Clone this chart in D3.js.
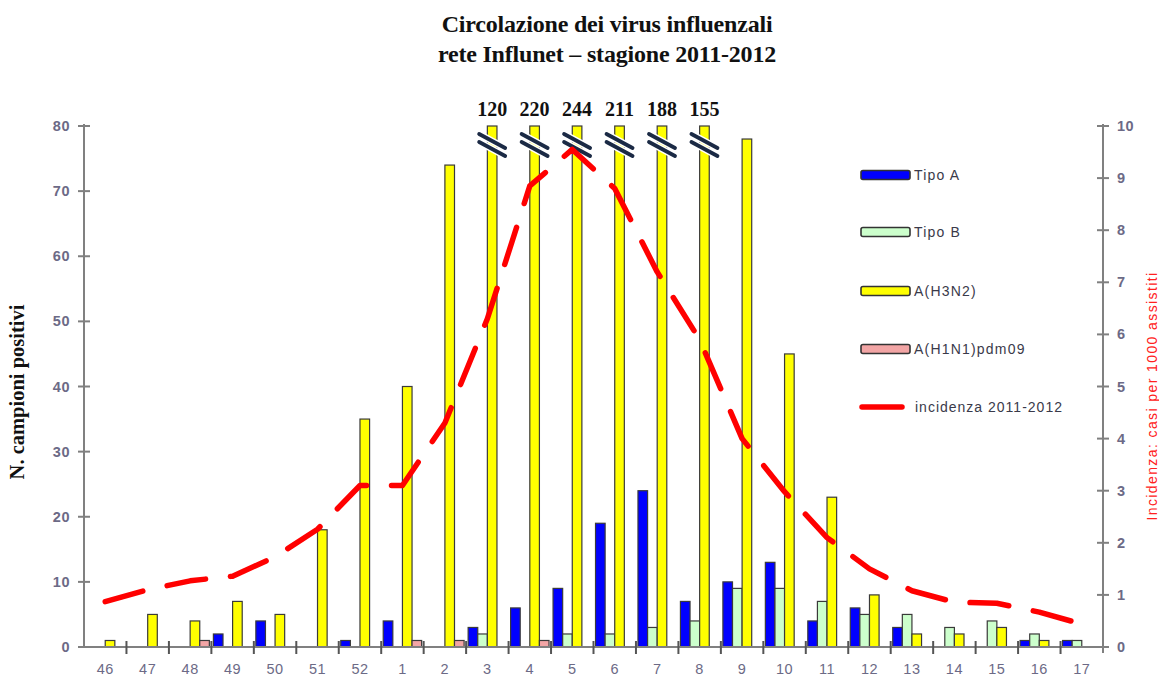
<!DOCTYPE html>
<html>
<head>
<meta charset="utf-8">
<script src="https://cdn.jsdelivr.net/npm/d3@7"></script>
<style>
  html, body { margin: 0; padding: 0; background: #fff; }
  svg { display: block; }
</style>
</head>
<body>
<svg id="chart" width="1159" height="681"></svg>
<script>
// ---- data ----
const weeks = ["46","47","48","49","50","51","52","1","2","3","4","5","6","7","8","9","10","11","12","13","14","15","16","17"];
const tipoA = [0,0,0,2,4,0,1,4,0,3,6,9,19,24,7,10,13,4,6,3,0,0,1,1];
const tipoB = [0,0,0,0,0,0,0,0,0,2,0,2,2,3,4,9,9,7,5,5,3,4,2,1];
const h3n2  = [1,5,4,7,5,18,35,40,74,120,220,244,211,188,155,78,45,23,8,2,2,3,1,0];
const h1n1  = [0,0,1,0,0,0,0,1,1,0,1,0,0,0,0,0,0,0,0,0,0,0,0,0];
const incidenza = [0.87,1.1,1.27,1.36,1.73,2.26,3.1,3.1,4.3,6.3,8.85,9.55,8.8,7.2,5.9,4.0,2.98,2.1,1.5,1.08,0.86,0.84,0.67,0.44];
const seriesNames = ["Tipo A","Tipo B","A(H3N2)","A(H1N1)pdm09"];
const seriesColors = ["#0000FF","#CCFFCC","#FFFF00","#F2A5A5"];
const lineName = "incidenza 2011-2012";
const leftTicks = [0,10,20,30,40,50,60,70,80];
const rightTicks = [0,1,2,3,4,5,6,7,8,9,10];
const titleLines = ["Circolazione dei virus influenzali","rete Influnet \u2013 stagione 2011-2012"];
const yLeftLabel = "N. campioni positivi";
const yRightLabel = "Incidenza: casi per 1000 assistiti";

const seriesValues = [tipoA, tipoB, h3n2, h1n1];

// ---- layout ----
const svg = d3.select("#chart");
const L = 84, R = 1103, T = 126, B = 647;

const x = d3.scaleBand().domain(weeks).range([L, R]).paddingInner(0).paddingOuter(0);
const xs = d3.scaleBand().domain(d3.range(4)).range([0, x.bandwidth()]).paddingInner(0).paddingOuter(0.21);
const y = d3.scaleLinear().domain([0, 80]).range([B, T]).clamp(true);
const y2 = d3.scaleLinear().domain([0, 10]).range([B, T]);

const axisColor = "#808080";
const tickTextColor = "#6c6a86";

// ---- title ----
svg.append("g").selectAll("text").data(titleLines).join("text")
  .attr("x", 607).attr("y", (d,i) => 32 + i*30)
  .attr("text-anchor", "middle")
  .attr("font-family", "'Liberation Serif', 'Times New Roman', serif")
  .attr("font-weight", "bold").attr("font-size", 24).attr("letter-spacing", -0.2)
  .attr("fill", "#111")
  .text(d => d);

// ---- bars ----
const bars = [];
seriesValues.forEach((vals, s) => {
  vals.forEach((v, i) => { if (v > 0) bars.push({s, i, v}); });
});
svg.append("g").selectAll("rect").data(bars).join("rect")
  .attr("x", d => x(weeks[d.i]) + xs(d.s))
  .attr("width", xs.bandwidth())
  .attr("y", d => y(d.v))
  .attr("height", d => B - y(d.v))
  .attr("fill", d => seriesColors[d.s])
  .attr("stroke", "#3a3a3a").attr("stroke-width", 1.2);

// ---- break marks and labels for clipped bars ----
const clipped = h3n2.map((v,i) => ({v, i})).filter(d => d.v > 80);
const brk = svg.append("g");
clipped.forEach(d => {
  const cx = x(weeks[d.i]) + xs(2) + xs.bandwidth()/2;
  const y0 = y(80);
  const g = brk.append("g");
  [[8,22],[16,30]].forEach(([a,b]) => {
    g.append("line").attr("x1", cx-13).attr("y1", y0+a).attr("x2", cx+13).attr("y2", y0+b)
      .attr("stroke", "#fff").attr("stroke-width", 7).attr("stroke-linecap", "round");
  });
  [[8,22],[16,30]].forEach(([a,b]) => {
    g.append("line").attr("x1", cx-13).attr("y1", y0+a).attr("x2", cx+13).attr("y2", y0+b)
      .attr("stroke", "#1b2a45").attr("stroke-width", 3.8).attr("stroke-linecap", "round");
  });
  brk.append("text").attr("x", cx).attr("y", y0 - 10)
    .attr("text-anchor", "middle")
    .attr("font-family", "'Liberation Serif', 'Times New Roman', serif")
    .attr("font-weight", "bold").attr("font-size", 20).attr("fill", "#111")
    .text(d.v);
});

// ---- incidence line ----
const line = d3.line()
  .x((d,i) => x(weeks[i]) + x.bandwidth()/2)
  .y(d => y2(d));
svg.append("path").datum(incidenza)
  .attr("d", line)
  .attr("fill", "none").attr("stroke", "#FF0000").attr("stroke-width", 5.5)
  .attr("stroke-linecap", "round").attr("stroke-linejoin", "round")
  .attr("stroke-dasharray", "39 25");

// ---- axes ----
const axG = svg.append("g");
// left axis
axG.append("line").attr("x1", L).attr("x2", L).attr("y1", T-2).attr("y2", B)
  .attr("stroke", axisColor).attr("stroke-width", 2);
axG.selectAll(".lt").data(leftTicks).join("line")
  .attr("x1", L-6).attr("x2", L+6).attr("y1", d => y(d)).attr("y2", d => y(d))
  .attr("stroke", axisColor).attr("stroke-width", 2);
axG.selectAll(".ll").data(leftTicks).join("text")
  .attr("x", L-14).attr("y", d => y(d)+5)
  .attr("text-anchor", "end")
  .attr("font-family", "'Liberation Sans', Arial, sans-serif")
  .attr("font-weight", "bold").attr("font-size", 14.5).attr("letter-spacing", 0.5)
  .attr("fill", tickTextColor).text(d => d);
// right axis
axG.append("line").attr("x1", R).attr("x2", R).attr("y1", T-2).attr("y2", B+6)
  .attr("stroke", axisColor).attr("stroke-width", 2);
axG.selectAll(".rt").data(rightTicks).join("line")
  .attr("x1", R-6).attr("x2", R+6).attr("y1", d => y2(d)).attr("y2", d => y2(d))
  .attr("stroke", axisColor).attr("stroke-width", 2);
axG.selectAll(".rl").data(rightTicks).join("text")
  .attr("x", R+14).attr("y", d => y2(d)+5)
  .attr("text-anchor", "start")
  .attr("font-family", "'Liberation Sans', Arial, sans-serif")
  .attr("font-weight", "bold").attr("font-size", 14.5).attr("letter-spacing", 0.5)
  .attr("fill", tickTextColor).text(d => d);
// bottom axis
axG.append("line").attr("x1", L-6).attr("x2", R).attr("y1", B).attr("y2", B)
  .attr("stroke", axisColor).attr("stroke-width", 2);
axG.selectAll(".bt").data(weeks.slice(1)).join("line")
  .attr("x1", d => x(d)).attr("x2", d => x(d)).attr("y1", B-6).attr("y2", B+7)
  .attr("stroke", "#555").attr("stroke-width", 2);
axG.selectAll(".bl").data(weeks).join("text")
  .attr("x", d => x(d) + x.bandwidth()/2).attr("y", B+27)
  .attr("text-anchor", "middle")
  .attr("font-family", "'Liberation Sans', Arial, sans-serif")
  .attr("font-size", 14.5).attr("letter-spacing", 0.5)
  .attr("fill", tickTextColor).text(d => d);

// axis titles
svg.append("text")
  .attr("transform", "translate(24,392) rotate(-90)")
  .attr("text-anchor", "middle")
  .attr("font-family", "'Liberation Serif', 'Times New Roman', serif")
  .attr("font-weight", "bold").attr("font-size", 20.5).attr("fill", "#111")
  .text(yLeftLabel);
svg.append("text")
  .attr("transform", "translate(1157,396) rotate(-90)")
  .attr("text-anchor", "middle")
  .attr("font-family", "'Liberation Sans', Arial, sans-serif")
  .attr("font-size", 14).attr("letter-spacing", 1.4).attr("fill", "#FF2020")
  .text(yRightLabel);

// ---- legend ----
const lg = svg.append("g");
const rowsY = [175, 232, 291, 349];
seriesNames.forEach((n, i) => {
  lg.append("rect").attr("x", 861).attr("y", rowsY[i]-4.5).attr("width", 49).attr("height", 9)
    .attr("rx", 2).attr("fill", seriesColors[i]).attr("stroke", "#333").attr("stroke-width", 1.6);
  lg.append("text").attr("x", 914).attr("y", rowsY[i]+5)
    .attr("font-family", "'Liberation Sans', Arial, sans-serif")
    .attr("font-size", 14).attr("letter-spacing", 1.2).attr("fill", "#3a3a4a").text(n);
});
lg.append("line").attr("x1", 862).attr("x2", 902).attr("y1", 407).attr("y2", 407)
  .attr("stroke", "#FF0000").attr("stroke-width", 5.5).attr("stroke-linecap", "round");
lg.append("text").attr("x", 915).attr("y", 412)
  .attr("font-family", "'Liberation Sans', Arial, sans-serif")
  .attr("font-size", 14).attr("letter-spacing", 1.0).attr("fill", "#3a3a4a").text(lineName);
</script>
</body>
</html>
